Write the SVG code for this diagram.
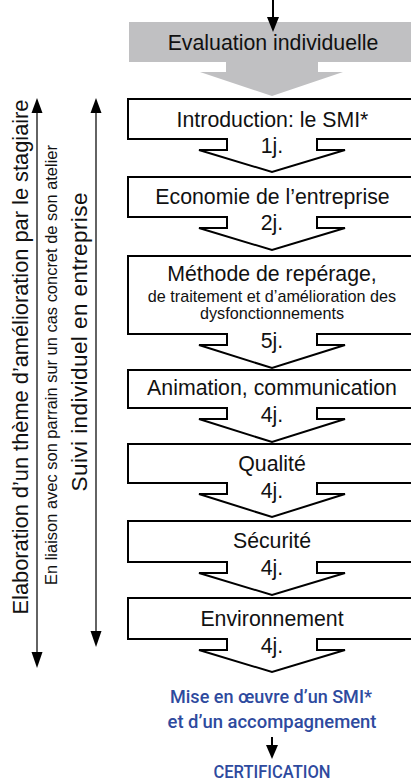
<svg xmlns="http://www.w3.org/2000/svg" width="411" height="782" viewBox="0 0 411 782">
<style>
.box{fill:#fff;stroke:#000;stroke-width:2;stroke-linejoin:miter}
.t{font-family:"Liberation Sans",Arial,sans-serif;font-size:21.3px;fill:#111;text-anchor:middle}
.s{font-family:"Liberation Sans",Arial,sans-serif;font-size:16.2px;fill:#111;text-anchor:middle}
.b{font-family:Roboto,"Liberation Sans",sans-serif;font-weight:500;fill:#2e4a9e;text-anchor:middle}
.ln{stroke:#222;stroke-width:1.4;fill:none}
.hd{fill:#000}
</style>

<g id="eval">
<rect x="129" y="22" width="290" height="40" fill="#c0c0c2"/>
<path d="M226,62 L318,62 L318,72 L343,72 L272,96 L200,72 L226,72 Z" fill="#c0c0c2"/>
<text class="t" x="273" y="50">Evaluation individuelle</text>
</g>

<g id="n1">
<path class="box" d="M128,99 L420,99 L420,139 L317,139 L317,150 L345,150 L272,172 L199,150 L227,150 L227,139 L128,139 Z"/>
<text class="t" x="272.5" y="127">Introduction: le SMI*</text>
<text class="t" x="272" y="153">1j.</text>
</g>

<g id="n2">
<path class="box" d="M128,177 L420,177 L420,217 L317,217 L317,228 L345,228 L272,250 L199,228 L227,228 L227,217 L128,217 Z"/>
<text class="t" x="272.5" y="204">Economie de l’entreprise</text>
<text class="t" x="272" y="230">2j.</text>
</g>

<g id="n3">
<path class="box" d="M128,256 L420,256 L420,334 L317,334 L317,345 L345,345 L272,368 L199,345 L227,345 L227,334 L128,334 Z"/>
<text class="t" x="272" y="281">Méthode de repérage,</text>
<text class="s" x="272" y="302">de traitement et d’amélioration des</text>
<text class="s" x="272" y="319">dysfonctionnements</text>
<text class="t" x="272" y="348">5j.</text>
</g>

<g id="n4">
<path class="box" d="M128,370 L420,370 L420,408 L317,408 L317,419 L345,419 L272,442 L199,419 L227,419 L227,408 L128,408 Z"/>
<text class="t" x="272" y="395">Animation, communication</text>
<text class="t" x="272" y="422">4j.</text>
</g>

<g id="n5">
<path class="box" d="M128,444 L420,444 L420,483 L317,483 L317,494 L345,494 L272,517 L199,494 L227,494 L227,483 L128,483 Z"/>
<text class="t" x="272" y="471">Qualité</text>
<text class="t" x="272" y="498">4j.</text>
</g>

<g id="n6">
<path class="box" d="M128,521 L420,521 L420,562 L317,562 L317,573 L345,573 L272,595 L199,573 L227,573 L227,562 L128,562 Z"/>
<text class="t" x="272" y="548">Sécurité</text>
<text class="t" x="272" y="575">4j.</text>
</g>

<g id="n7">
<path class="box" d="M128,598 L420,598 L420,639 L317,639 L317,650 L345,650 L272,672 L199,650 L227,650 L227,639 L128,639 Z"/>
<text class="t" x="272" y="626">Environnement</text>
<text class="t" x="272" y="653">4j.</text>
</g>

<g id="side">
<text class="t" transform="translate(28,357) rotate(-90)" style="font-size:21.8px" textLength="515" lengthAdjust="spacing">Elaboration d’un thème d’amélioration par le stagiaire</text>
<text class="s" transform="translate(57,365) rotate(-90)" style="font-size:16.4px" textLength="440" lengthAdjust="spacing">En liaison avec son parrain sur un cas concret de son atelier</text>
<text class="t" transform="translate(87,342) rotate(-90)" style="font-size:22.5px" textLength="299" lengthAdjust="spacing">Suivi individuel en entreprise</text>
</g>

<g id="result">
<text class="b" x="271" y="703" style="font-size:17.5px" textLength="202" lengthAdjust="spacingAndGlyphs">Mise en œuvre d’un SMI*</text>
<text class="b" x="272" y="728" style="font-size:17.5px" textLength="209" lengthAdjust="spacingAndGlyphs">et d’un accompagnement</text>
</g>
<g id="certif">
<text class="b" x="272" y="778" style="font-size:19px" textLength="117" lengthAdjust="spacingAndGlyphs">CERTIFICATION</text>
</g>

<g id="connectors">
<line x1="273" y1="0" x2="273" y2="18" stroke="#000" stroke-width="2"/>
<path class="hd" d="M267,17 L279,17 L273,32 Z"/>
<line class="ln" x1="37" y1="110" x2="37" y2="655"/>
<path class="hd" d="M31.5,113 L42.5,113 L37,98 Z"/>
<path class="hd" d="M31.5,652 L42.5,652 L37,668 Z"/>
<line class="ln" x1="96" y1="110" x2="96" y2="634"/>
<path class="hd" d="M90.5,113 L101.5,113 L96,98 Z"/>
<path class="hd" d="M90.5,631 L101.5,631 L96,647 Z"/>
<line x1="272" y1="737" x2="272" y2="746" stroke="#000" stroke-width="2"/>
<path class="hd" d="M266,745 L278,745 L272,759 Z"/>
</g>
</svg>
